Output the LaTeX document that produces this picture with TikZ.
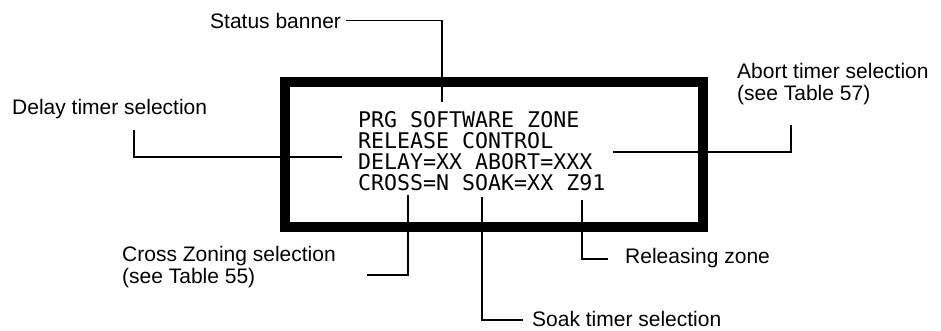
\documentclass[tikz,border=0pt]{standalone}
\usepackage{fontspec}
\setmainfont{Liberation Sans}
\newfontfamily\lcdfont{DejaVu Sans Mono}
\begin{document}
\begin{tikzpicture}[x=1pt, y=-1pt,
		callout/.style={font=\fontsize{21}{21.5}\selectfont, inner sep=0pt, anchor=base west, align=left},
		lcdrow/.style={font=\lcdfont\fontsize{21.6}{21}\selectfont, inner sep=0pt, anchor=base west},
		leader/.style={line width=1.8pt, line join=miter}]
			\useasboundingbox (0,0) rectangle (941,330);
			% khung man hinh
			\draw[line width=10pt] (285,82) rectangle (703,227);
			\foreach \t [count=\i] in {PRG SOFTWARE ZONE, RELEASE CONTROL, DELAY=XX ABORT=XXX, CROSS=N SOAK=XX Z91} {
				\node[lcdrow] (row\i) at (358, 127+21*\i-21) {\t};
			}
			% nhan (hai dong: base = dong cuoi)
			\node[callout] (banner) at (210,28) {Status banner};
			\node[callout] (delay) at (12,114) {Delay timer selection};
			\node[callout] (abort) at (737,100) {Abort timer selection\\(see Table 57)};
			\node[callout] (cross) at (122,283) {Cross Zoning selection\\(see Table 55)};
			\node[callout] (soak) at (532,326) {Soak timer selection};
			\node[callout] (zone) at (625,263) {Releasing zone};
			% diem cuoi
			\coordinate (tBanner) at (442,102);
			\coordinate (kDelay) at (134,130);
			\coordinate (tDelay) at (342,157);
			\coordinate (tAbort) at (613,152);
			\coordinate (kAbort) at (791,125);
			\coordinate (tCross) at (408,195);
			\coordinate (kCross) at (367,275);
			\coordinate (tSoak) at (482,197);
			\coordinate (kSoak) at (523,320);
			\coordinate (tZone) at (582,200);
			\coordinate (kZone) at (608,259);
			\draw[leader] ([xshift=5pt]banner.east) -| (tBanner);
			\draw[leader] (kDelay) |- (tDelay);
			\draw[leader] (tAbort) -| (kAbort);
			\draw[leader] (kCross) -| (tCross);
			\draw[leader] (tSoak) |- (kSoak);
			\draw[leader] (tZone) |- (kZone);
		\end{tikzpicture}
\end{document}
